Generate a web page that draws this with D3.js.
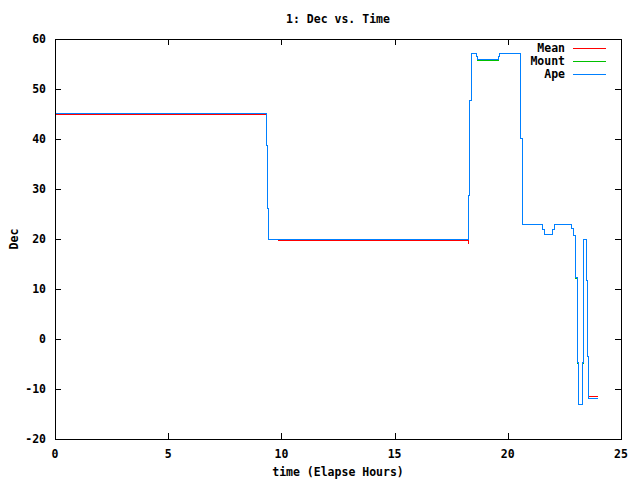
<!DOCTYPE html>
<html><head><meta charset="utf-8">
<script src="https://cdn.jsdelivr.net/npm/d3@7"></script>
<style>
body{margin:0;background:#fff;}
text{font-family:"DejaVu Sans Mono",monospace;font-weight:bold;font-size:11.5px;fill:#000;}
</style></head>
<body><svg id="c" width="640" height="480"></svg>
<script>
const title = "1: Dec vs. Time";
const xLabel = "time (Elapse Hours)";
const yLabel = "Dec";
const xTicks = [0, 5, 10, 15, 20, 25];
const yTicks = [-20, -10, 0, 10, 20, 30, 40, 50, 60];
const seriesNames = ["Mean", "Mount", "Ape"];
const seriesColors = ["#ff0000", "#00c000", "#0080ff"];

const meanTimes  = [0, 9.32, 9.33, 9.81, 18.22, 18.25, 18.26, 23.52, 23.93];
const meanValues = [45.0, 45.0, null, 19.8, 19.2, 19.2, null, -11.4, -11.4];

const apeTimes  = [0, 9.32, 9.36, 9.41, 18.22, 18.29, 18.36, 18.60, 18.64, 19.58, 19.62, 20.56, 20.63, 21.51, 21.58, 21.95, 22.02, 22.79, 22.88, 22.97, 23.07, 23.10, 23.26, 23.31, 23.33, 23.44, 23.48, 23.53, 23.93];
const apeValues = [45.2, 38.8, 26.2, 20.0, 28.8, 47.8, 57.3, 56.6, 55.9, 56.6, 57.3, 40.3, 23.0, 22.0, 21.0, 22.0, 23.0, 22.3, 20.9, 12.5, -4.5, -12.9, -4.5, 11.8, 20.0, 11.9, -3.5, -11.7, -11.7];

const mountTimes  = apeTimes;
const mountValues = [45.2, 38.8, 26.2, 20.0, 28.8, 47.8, 57.3, 56.5, 55.7, 56.5, 57.3, 40.3, 23.0, 22.0, 21.0, 22.0, 23.0, 22.3, 20.9, 12.3, -4.7, -12.9, -4.7, 11.6, 20.1, 11.9, -3.5, -11.7, -11.7];

const svg = d3.select("#c");
const L = 55, R = 621, T = 39, B = 439;
const x = d3.scaleLinear().domain([0, 25]).range([L, R]);
const y = d3.scaleLinear().domain([-20, 60]).range([B, T]);

// ticks
const tl = 6;
const g = svg.append("g").attr("shape-rendering", "crispEdges").attr("stroke", "#000").attr("stroke-width", 1);
xTicks.forEach(t => {
  const px = Math.round(x(t)) + 0.5;
  g.append("line").attr("x1", px).attr("x2", px).attr("y1", B).attr("y2", B - tl);
  g.append("line").attr("x1", px).attr("x2", px).attr("y1", T).attr("y2", T + tl);
});
yTicks.forEach(t => {
  const py = Math.round(y(t)) + 0.5;
  g.append("line").attr("x1", L).attr("x2", L + tl).attr("y1", py).attr("y2", py);
  g.append("line").attr("x1", R).attr("x2", R - tl).attr("y1", py).attr("y2", py);
});

svg.selectAll(".xt").data(xTicks).enter().append("text")
  .attr("x", d => x(d)).attr("y", 458).attr("text-anchor", "middle").text(d => d);
svg.selectAll(".yt").data(yTicks).enter().append("text")
  .attr("x", 46).attr("y", d => y(d) + 4).attr("text-anchor", "end").text(d => d);

svg.append("text").attr("x", 338).attr("y", 23).attr("text-anchor", "middle").text(title);
svg.append("text").attr("x", 338).attr("y", 476).attr("text-anchor", "middle").text(xLabel);
svg.append("text").attr("transform", "translate(18,239) rotate(-90)").attr("text-anchor", "middle").text(yLabel);

function mk(ts, vs) { return ts.map((t, i) => ({t: t, v: vs[i]})); }
const series = [mk(meanTimes, meanValues), mk(mountTimes, mountValues), mk(apeTimes, apeValues)];
const line = d3.line().defined(d => d.v !== null)
  .x(d => Math.round(x(d.t)) + 0.5).y(d => Math.round(y(d.v)) + 0.5).curve(d3.curveStepAfter);

const pg = svg.append("g").attr("shape-rendering", "crispEdges");
series.forEach((s, i) => {
  pg.append("path").attr("d", line(s)).attr("fill", "none")
    .attr("stroke", seriesColors[i]).attr("stroke-width", 1);
});

// legend
seriesNames.forEach((n, i) => {
  const ly = 48 + i * 13;
  svg.append("text").attr("x", 565).attr("y", ly + 4).attr("text-anchor", "end").text(n);
  svg.append("line").attr("x1", 573).attr("x2", 606).attr("y1", ly + 0.5).attr("y2", ly + 0.5)
    .attr("stroke", seriesColors[i]).attr("stroke-width", 1).attr("shape-rendering", "crispEdges");
});

// frame
svg.append("rect").attr("x", L + 0.5).attr("y", T + 0.5).attr("width", R - L).attr("height", B - T)
  .attr("fill", "none").attr("stroke", "#000").attr("shape-rendering", "crispEdges");
</script></body></html>
